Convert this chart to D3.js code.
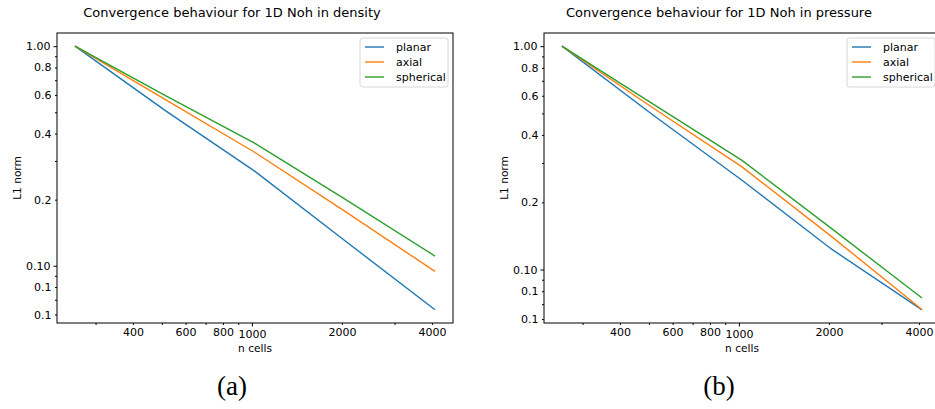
<!DOCTYPE html>
<meta charset="utf-8">

<head>
    <script src="https://d3js.org/d3.v7.min.js"></script>
</head>
<style>
    body {
        margin: 0;
        background: white;
        font-family: "DejaVu Sans", sans-serif;
    }

    .tick text {
        font-family: "DejaVu Sans", sans-serif;
        font-size: 11px;
        fill: #000;
    }

    .caption {
        font-family: "Liberation Serif", "DejaVu Serif", serif;
        font-size: 27px;
    }
</style>

<body>
    <svg id="fig" width="935" height="409"></svg>
    <script>
        'use strict';

        // data
        const nCells = [256, 512, 1024, 2048, 4096];
        const seriesNames = ["planar", "axial", "spherical"];
        const seriesColors = ["#1f77b4", "#ff7f0e", "#2ca02c"];

        const densityPlanar = [1.0, 0.510, 0.269, 0.130, 0.0630];
        const densityAxial = [1.0, 0.573, 0.328, 0.177, 0.0942];
        const densitySpherical = [1.0, 0.597, 0.361, 0.201, 0.1107];

        const pressurePlanar = [1.0, 0.496, 0.251, 0.123, 0.0660];
        const pressureAxial = [1.0, 0.533, 0.288, 0.140, 0.0662];
        const pressureSpherical = [1.0, 0.555, 0.308, 0.152, 0.0746];

        // tick labels as matplotlib printed them
        const yTicks = [1.0, 0.9, 0.8, 0.7, 0.6, 0.5, 0.4, 0.3, 0.2, 0.1, 0.09, 0.08, 0.07, 0.06];
        const yTickLabels = ["1.00", "", "0.8", "", "0.6", "", "0.4", "", "0.2", "0.10", "", "0.1", "", "0.1"];
        const xTicks = [300, 400, 500, 600, 700, 800, 900, 1000, 2000, 3000, 4000];
        const xTickLabels = ["", "400", "", "600", "", "800", "", "1000", "2000", "", "4000"];

        const panels = [
            {
                title: "Convergence behaviour for 1D Noh in density",
                caption: "(a)",
                left: 57,
                series: [densityPlanar, densityAxial, densitySpherical]
            },
            {
                title: "Convergence behaviour for 1D Noh in pressure",
                caption: "(b)",
                left: 544,
                series: [pressurePlanar, pressureAxial, pressureSpherical]
            }
        ];

        const plotW = 396, plotH = 290, plotTop = 33;
        const svg = d3.select("#fig");

        // matplotlib style 5% padding in log space
        function logPad(lo, hi) {
            const a = Math.log10(lo), b = Math.log10(hi), m = (b - a) * 0.05;
            return [Math.pow(10, a - m), Math.pow(10, b + m)];
        }

        const isMajor = (v) => Math.abs(Math.log10(v) - Math.round(Math.log10(v))) < 1e-9;

        panels.forEach((p) => {
            const g = svg.append("g").attr("transform", `translate(${p.left},${plotTop})`);

            const all = p.series.flat();
            const x = d3.scaleLog().domain(logPad(d3.min(nCells), d3.max(nCells))).range([0, plotW]);
            const y = d3.scaleLog().domain(logPad(d3.min(all), d3.max(all))).range([plotH, 0]);

            // lines
            const line = d3.line().x((d, i) => x(nCells[i])).y((d) => y(d));
            p.series.forEach((s, i) => {
                g.append("path")
                    .datum(s)
                    .attr("fill", "none")
                    .attr("stroke", seriesColors[i])
                    .attr("stroke-width", 1.4)
                    .attr("d", line);
            });

            // frame
            g.append("rect")
                .attr("width", plotW).attr("height", plotH)
                .attr("fill", "none").attr("stroke", "#000").attr("stroke-width", 1);

            // y axis
            const yAxis = g.append("g")
                .call(d3.axisLeft(y).tickValues(yTicks)
                    .tickFormat((d, i) => yTickLabels[i]).tickSizeOuter(0));
            yAxis.select(".domain").remove();
            yAxis.selectAll(".tick line").attr("x2", (d) => isMajor(d) ? -3.5 : -2);
            yAxis.selectAll(".tick text").attr("x", (d) => isMajor(d) ? -6.5 : -5.5);

            // x axis
            const xAxis = g.append("g")
                .attr("transform", `translate(0,${plotH})`)
                .call(d3.axisBottom(x).tickValues(xTicks)
                    .tickFormat((d, i) => xTickLabels[i]).tickSizeOuter(0));
            xAxis.select(".domain").remove();
            xAxis.selectAll(".tick line").attr("y2", (d) => isMajor(d) ? 3.5 : 2);
            xAxis.selectAll(".tick text").attr("y", (d) => isMajor(d) ? 7 : 5);

            // labels (title and caption sit on the figure column centre, left of the axes centre)
            g.append("text")
                .attr("x", plotW / 2 - 23).attr("y", -16)
                .attr("text-anchor", "middle")
                .style("font-size", "13px")
                .text(p.title);

            g.append("text")
                .attr("x", plotW / 2).attr("y", plotH + 29)
                .attr("text-anchor", "middle")
                .style("font-size", "10.6px")
                .text("n cells");

            g.append("text")
                .attr("transform", `translate(-36,${plotH / 2}) rotate(-90)`)
                .attr("text-anchor", "middle")
                .style("font-size", "10.6px")
                .text("L1 norm");

            g.append("text")
                .attr("class", "caption")
                .attr("x", plotW / 2 - 23).attr("y", plotH + 72)
                .attr("text-anchor", "middle")
                .text(p.caption);

            // legend
            const leg = g.append("g").attr("transform", `translate(${plotW - 93},5)`);
            leg.append("rect")
                .attr("width", 88).attr("height", 49)
                .attr("rx", 2.5)
                .attr("fill", "rgba(255,255,255,0.8)")
                .attr("stroke", "#d6d6d6").attr("stroke-width", 1);
            seriesNames.forEach((name, i) => {
                const ly = 9 + i * 15;
                leg.append("line")
                    .attr("x1", 5).attr("x2", 24)
                    .attr("y1", ly).attr("y2", ly)
                    .attr("stroke", seriesColors[i]).attr("stroke-width", 1.4);
                leg.append("text")
                    .attr("x", 36).attr("y", ly + 4)
                    .style("font-size", "11px")
                    .text(name);
            });
        });
    </script>
</body>
